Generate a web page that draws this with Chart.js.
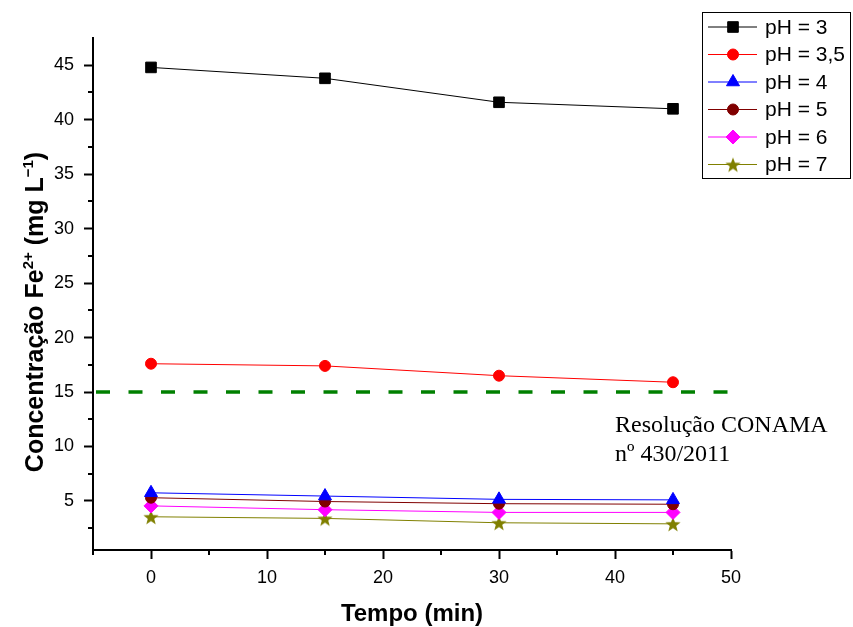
<!DOCTYPE html>
<html>
<head>
<meta charset="utf-8">
<script src="https://cdn.jsdelivr.net/npm/chart.js@4.4.0/dist/chart.umd.min.js"></script>
<style>
body { margin: 0; background: #fff; }
#wrap { width: 853px; height: 627px; }
</style>
</head>
<body>
<div id="wrap"><canvas id="grafico" width="853" height="627"></canvas></div>
<script>
// tempo de amostragem (min)
var tempo = [0, 15, 30, 45];

// concentração de Fe2+ (mg/L) em cada pH
var ph3  = [44.8, 43.8, 41.6, 41.0];
var ph35 = [17.6, 17.4, 16.5, 15.9];
var ph4  = [5.75, 5.45, 5.15, 5.1];
var ph5  = [5.3, 4.95, 4.75, 4.7];
var ph6  = [4.55, 4.2, 3.95, 3.95];
var ph7  = [3.55, 3.4, 3.0, 2.9];

// limite da Resolução CONAMA nº 430/2011
var limite = 15;
var limiteX = [-5, 50];

// escalas
var xTicks = [0, 10, 20, 30, 40, 50];
var xMinor = [-5, 5, 15, 25, 35, 45];
var yTicks = [5, 10, 15, 20, 25, 30, 35, 40, 45];
var yMinor = [2.5, 7.5, 12.5, 17.5, 22.5, 27.5, 32.5, 37.5, 42.5];

function pares(ys) {
    return tempo.map(function (t, i) { return { x: t, y: ys[i] }; });
}

// estrela cheia (o 'star' do Chart.js é só traço)
function estrela(cor, r) {
    var c = document.createElement('canvas');
    var s = Math.ceil(r * 2) + 2;
    c.width = s; c.height = s;
    var g = c.getContext('2d');
    g.fillStyle = cor;
    g.beginPath();
    for (var i = 0; i < 10; i++) {
        var a = -Math.PI / 2 + i * Math.PI / 5;
        var rr = i % 2 ? r * 0.42 : r;
        g.lineTo(s / 2 + rr * Math.cos(a), s / 2 + 1 + rr * Math.sin(a));
    }
    g.closePath();
    g.fill();
    return c;
}

var series = [
    { label: 'pH = 3',   data: ph3,  cor: '#000000', estilo: 'rect',     raio: 7.5 },
    { label: 'pH = 3,5', data: ph35, cor: '#ff0000', estilo: 'circle',   raio: 5.5 },
    { label: 'pH = 4',   data: ph4,  cor: '#0000ff', estilo: 'triangle', raio: 7.5 },
    { label: 'pH = 5',   data: ph5,  cor: '#800000', estilo: 'circle',   raio: 5.5 },
    { label: 'pH = 6',   data: ph6,  cor: '#ff00ff', estilo: 'rectRot',  raio: 7 },
    { label: 'pH = 7',   data: ph7,  cor: '#808000', estilo: estrela('#808000', 8), raio: 7 }
];

var datasets = series.map(function (s) {
    return {
        label: s.label,
        data: pares(s.data),
        borderColor: s.cor,
        backgroundColor: s.cor,
        borderWidth: 1,
        pointStyle: s.estilo,
        pointRadius: s.raio,
        pointBorderWidth: 1,
        pointBorderColor: s.cor,
        pointBackgroundColor: s.cor,
        tension: 0
    };
});

// linha tracejada do limite
datasets.push({
    label: 'limite',
    data: limiteX.map(function (x) { return { x: x, y: limite }; }),
    borderColor: '#008000',
    borderWidth: 3.5,
    borderDash: [14, 18.5],
    borderDashOffset: -3,
    pointRadius: 0
});

var fonte = "Arial, 'Liberation Sans', sans-serif";

// legenda em caixa
var legenda = {
    id: 'legenda',
    afterDraw: function (chart) {
        var ctx = chart.ctx;
        ctx.save();
        ctx.strokeStyle = '#000';
        ctx.lineWidth = 1;
        ctx.strokeRect(702.5, 12.5, 148, 166);
        series.forEach(function (s, i) {
            var y = 27 + i * 27.5;
            ctx.strokeStyle = s.cor;
            ctx.lineWidth = 1;
            ctx.beginPath();
            ctx.moveTo(708, y);
            ctx.lineTo(757, y);
            ctx.stroke();
            ctx.fillStyle = s.cor;
            Chart.helpers.drawPoint(ctx, {
                pointStyle: s.estilo, radius: s.raio, rotation: 0, borderWidth: 1
            }, 733, y);
            ctx.fillStyle = '#000';
            ctx.font = '21px ' + fonte;
            ctx.textBaseline = 'middle';
            ctx.textAlign = 'left';
            ctx.fillText(s.label, 765, y + 1);
        });
        ctx.restore();
    }
};

// ticks menores, títulos dos eixos e texto da resolução
var extras = {
    id: 'extras',
    afterDraw: function (chart) {
        var ctx = chart.ctx;
        var xs = chart.scales.x, ys = chart.scales.y;
        var a = chart.chartArea;
        ctx.save();
        ctx.strokeStyle = '#000';
        ctx.lineWidth = 2;
        ctx.beginPath();
        xMinor.forEach(function (v) {
            var px = Math.round(xs.getPixelForValue(v));
            ctx.moveTo(px, a.bottom);
            ctx.lineTo(px, a.bottom + 5);
        });
        yMinor.forEach(function (v) {
            var py = Math.round(ys.getPixelForValue(v));
            ctx.moveTo(a.left, py);
            ctx.lineTo(a.left - 5, py);
        });
        ctx.stroke();

        ctx.fillStyle = '#000';
        ctx.textBaseline = 'alphabetic';

        // eixo x
        ctx.font = 'bold 24px ' + fonte;
        ctx.textAlign = 'center';
        ctx.fillText('Tempo (min)', (a.left + a.right) / 2, 621);

        // eixo y com sobrescritos
        var partes = [
            ['Concentração Fe', false],
            ['2+', true],
            [' (mg L', false],
            ['\u22121', true],
            [')', false]
        ];
        var fN = 'bold 25px ' + fonte, fS = 'bold 15px ' + fonte;
        var total = 0;
        partes.forEach(function (p) {
            ctx.font = p[1] ? fS : fN;
            total += ctx.measureText(p[0]).width;
        });
        ctx.translate(43, 312);
        ctx.rotate(-Math.PI / 2);
        ctx.textAlign = 'left';
        var x = -total / 2;
        partes.forEach(function (p) {
            ctx.font = p[1] ? fS : fN;
            ctx.fillText(p[0], x, p[1] ? -10 : 0);
            x += ctx.measureText(p[0]).width;
        });
        ctx.setTransform(1, 0, 0, 1, 0, 0);

        // texto da resolução
        var lx = xs.getPixelForValue(40);
        var ly = ys.getPixelForValue(limite);
        ctx.font = "24px 'Times New Roman', 'Liberation Serif', serif";
        ctx.textAlign = 'left';
        ctx.fillText('Resolução CONAMA', lx, ly + 40);
        ctx.fillText('nº 430/2011', lx, ly + 69);
        ctx.restore();
    }
};

var ctxGrafico = document.getElementById('grafico').getContext('2d');
var grafico = new Chart(ctxGrafico, {
    type: 'line',
    data: { datasets: datasets },
    options: {
        responsive: false,
        animation: false,
        layout: { padding: { top: 38, right: 122, left: 0, bottom: 0 }, autoPadding: false },
        plugins: {
            legend: { display: false },
            tooltip: { enabled: false }
        },
        scales: {
            x: {
                type: 'linear',
                min: -5,
                max: 50,
                afterBuildTicks: function (s) { s.ticks = xTicks.map(function (v) { return { value: v }; }); },
                afterFit: function (s) { s.height = 77; },
                ticks: { color: '#000', font: { size: 18, family: fonte }, padding: 8, maxRotation: 0 },
                grid: { drawOnChartArea: false, drawTicks: true, tickLength: 9, tickWidth: 2, tickColor: '#000' },
                border: { display: true, color: '#000', width: 2 }
            },
            y: {
                type: 'linear',
                min: 0.5,
                max: 47.5,
                afterBuildTicks: function (s) { s.ticks = yTicks.map(function (v) { return { value: v }; }); },
                afterFit: function (s) { s.width = 93; },
                ticks: { color: '#000', font: { size: 18, family: fonte }, padding: 10 },
                grid: { drawOnChartArea: false, drawTicks: true, tickLength: 9, tickWidth: 2, tickColor: '#000' },
                border: { display: true, color: '#000', width: 2 }
            }
        }
    },
    plugins: [legenda, extras]
});
</script>
</body>
</html>
